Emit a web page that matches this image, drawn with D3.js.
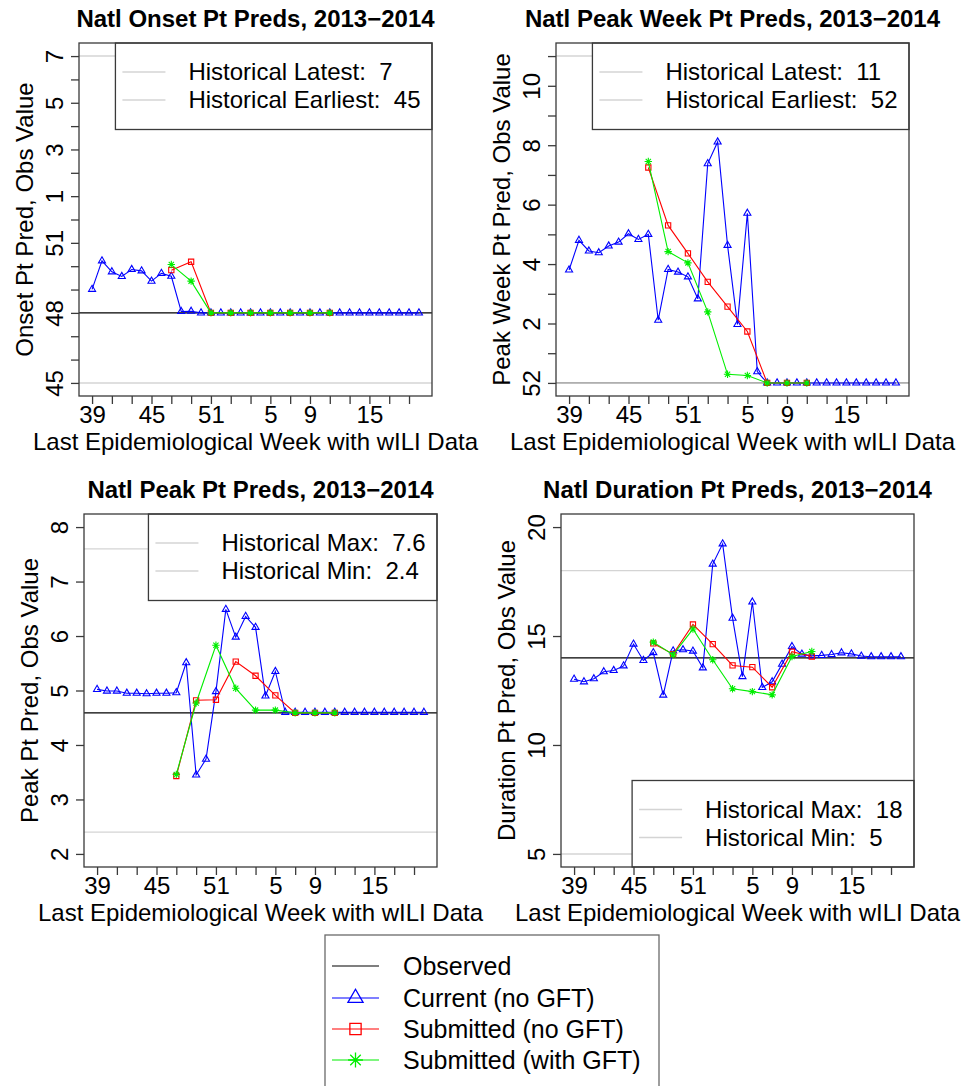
<!DOCTYPE html>
<html><head><meta charset="utf-8">
<script src="https://cdn.jsdelivr.net/npm/d3@7"></script>
<style>
body{margin:0;background:#fff}
svg{display:block}
text{font-family:"Liberation Sans",Arial,Helvetica,sans-serif;white-space:pre;fill:#000}
</style>
</head><body><svg id="c" width="974" height="1086"></svg>
<script>
// ---------------- DATA ----------------
const weeks = [39,40,41,42,43,44,45,46,47,48,49,50,51,52,1,2,3,4,5,6,7,8,9,10,11,12,13,14,15,16,17,18,19,20];
const submittedWeeks = [47,49,51,1,3,5,7,9,11];
const xTickWeeks = [39,41,43,45,47,49,51,1,3,5,7,9,11,13,15,17,19];
const xTickLabels = [39,45,51,5,9,15];

// Onset (season-week scale: 53 = week 1 of 2014)
const onsetCurrent = [49.01,50.23,49.76,49.56,49.86,49.80,49.36,49.69,49.57,48.06,48.07,48,48,48,48,48,48,48,48,48,48,48,48,48,48,48,48,48,48,48,48,48,48,48];
const onsetSubNoGFT = [49.83,50.19,48,48,48,48,48,48,48];
const onsetSubGFT = [50.07,49.36,48,48,48,48,48,48,48];
const onsetObserved = 48;
const onsetHist = [59,45];            // latest (wk 7), earliest (wk 45)
const onsetYTicks = [45,46,47,48,49,50,51,52,53,54,55,56,57,58,59];
const onsetYLabels = [45,48,51,53,55,57,59];

// Peak week (season-week scale)
const pkwkCurrent = [55.80,56.80,56.44,56.38,56.61,56.74,57.02,56.83,57.00,54.11,55.82,55.73,55.57,54.83,59.38,60.11,56.63,53.97,57.71,52.38,52,52,52,52,52,52,52,52,52,52,52,52,52,52];
const pkwkSubNoGFT = [59.25,57.30,56.36,55.40,54.57,53.73,52,52,52];
const pkwkSubGFT = [59.45,56.42,56.04,54.39,52.29,52.25,52,52,52];
const pkwkObserved = 52;
const pkwkHist = [63,52];             // latest (wk 11), earliest (wk 52)
const pkwkYTicks = [52,53,54,55,56,57,58,59,60,61,62,63];
const pkwkYLabels = [52,54,56,58,60,62];

// Peak (wILI %)
const peakCurrent = [5.02,4.99,4.99,4.95,4.95,4.94,4.95,4.95,4.96,5.51,3.45,3.74,4.98,6.49,5.98,6.36,6.16,4.90,5.35,4.60,4.60,4.60,4.60,4.60,4.60,4.60,4.60,4.60,4.60,4.60,4.60,4.60,4.60,4.60];
const peakSubNoGFT = [3.43,4.82,4.83,5.53,5.27,4.91,4.59,4.59,4.59];
const peakSubGFT = [3.46,4.77,5.83,5.04,4.64,4.64,4.59,4.59,4.59];
const peakObserved = 4.59;
const peakHist = [7.6,2.4];
const peakYTicks = [2,3,4,5,6,7,8];

// Duration (weeks)
const durCurrent = [13.02,12.90,13.04,13.36,13.42,13.63,14.63,13.88,14.24,12.29,14.32,14.37,14.31,13.54,18.30,19.23,15.82,13.14,16.56,12.64,12.90,13.71,14.52,14.17,14.09,14.11,14.15,14.23,14.18,14.08,14.05,14.05,14.05,14.05];
const durSubNoGFT = [14.66,14.17,15.53,14.63,13.65,13.57,12.65,14.28,14.06];
const durSubGFT = [14.72,14.14,15.32,13.91,12.58,12.45,12.30,14.06,14.29];
const durObserved = 14;
const durHist = [18,5];
const durYTicks = [5,10,15,20];

const seriesNames = ["Observed","Current (no GFT)","Submitted (no GFT)","Submitted (with GFT)"];

// ---------------- DRAWING ----------------
const svg = d3.select("#c");
svg.append("rect").attr("width",974).attr("height",1086).attr("fill","#fff");
const FONT = 24;
const BOX = "#3a3a3a";
const HISTC = "#d4d4d4";
const COL = {cur:"#0000ff", red:"#ff0000", grn:"#00ee00"};

function triPath(s){const r=0.583*s,w=0.505*s,b=0.2916*s;return `M0,${-r}L${w},${b}L${-w},${b}Z`;}
function sqPath(s){const h=0.375*s;return `M${-h},${-h}H${h}V${h}H${-h}Z`;}
function astPath(s){const a=0.375*s,b=Math.SQRT2*a;return `M${-a},${-a}L${a},${a}M${-a},${a}L${a},${-a}M${-b},0H${b}M0,${-b}V${b}`;}
const seasonLabel = v => v>52 ? String(v-52) : String(v);

let clipId=0;
function drawPanel(p){
  const g = svg.append("g");
  const x = d3.scaleLinear().domain([-0.04*33, 33+0.04*33]).range([p.x0,p.x1]);
  const pad = (p.ylim[1]-p.ylim[0])*0.04;
  const y = d3.scaleLinear().domain([p.ylim[0]-pad,p.ylim[1]+pad]).range([p.y1,p.y0]);
  const id = "clip"+(clipId++);
  g.append("clipPath").attr("id",id).append("rect")
    .attr("x",p.x0).attr("y",p.y0).attr("width",p.x1-p.x0).attr("height",p.y1-p.y0);
  const pl = g.append("g").attr("clip-path",`url(#${id})`);
  // observed
  pl.append("line").attr("x1",p.x0).attr("x2",p.x1).attr("y1",y(p.obs)).attr("y2",y(p.obs))
    .attr("stroke","#000").attr("stroke-width",1.3);
  // historical lines
  p.hist.forEach(h=>pl.append("line").attr("x1",p.x0).attr("x2",p.x1).attr("y1",y(h)).attr("y2",y(h))
    .attr("stroke",HISTC).attr("stroke-width",1.4));
  const line = d3.line().x(d=>x(d.i)).y(d=>y(d.v));
  const cur = p.cur.map((v,k)=>({i:k,v}));
  const sidx = submittedWeeks.map(w=>weeks.indexOf(w));
  const red = p.red.map((v,k)=>({i:sidx[k],v}));
  const grn = p.grn.map((v,k)=>({i:sidx[k],v}));
  const S=7;
  [[cur,COL.cur,triPath(S)],[red,COL.red,sqPath(S)],[grn,COL.grn,astPath(S)]].forEach(([data,c,path])=>{
    pl.append("path").attr("d",line(data)).attr("fill","none").attr("stroke",c).attr("stroke-width",1.1);
    pl.selectAll(null).data(data).enter().append("path")
      .attr("transform",d=>`translate(${x(d.i)},${y(d.v)})`).attr("d",path)
      .attr("fill","none").attr("stroke",c).attr("stroke-width",1.1);
  });
  // in-panel legend
  const lg = g.append("g");
  const rect = lg.append("rect").attr("fill","#fff").attr("stroke",BOX).attr("stroke-width",1.3);
  const texts = p.legend.map(t=>lg.append("text").text(t).attr("font-size",FONT).attr("dy","0.35em"));
  const tw = d3.max(texts,t=>t.node().getComputedTextLength());
  const bw = 73 + tw + 11.5, bh = 86.5;
  const bx = p.x1 - bw;
  const by = p.legendPos==="top" ? p.y0 : p.y1 - bh;
  rect.attr("x",bx).attr("y",by).attr("width",bw).attr("height",bh);
  texts.forEach((t,k)=>{
    const ly = by + 29 + k*28;
    t.attr("x",bx+73).attr("y",ly);
    lg.append("line").attr("x1",bx+7).attr("x2",bx+50).attr("y1",ly).attr("y2",ly)
      .attr("stroke",HISTC).attr("stroke-width",1.4);
  });
  // box
  g.append("rect").attr("x",p.x0).attr("y",p.y0).attr("width",p.x1-p.x0).attr("height",p.y1-p.y0)
    .attr("fill","none").attr("stroke",BOX).attr("stroke-width",1.3);
  // x axis
  const xTickIdx = xTickWeeks.map(w=>weeks.indexOf(w));
  const xa = g.append("g").attr("transform",`translate(0,${p.y1})`)
    .call(d3.axisBottom(x).tickValues(xTickIdx).tickSize(8).tickSizeOuter(0)
      .tickFormat(i=>xTickLabels.includes(weeks[i]) ? String(weeks[i]) : ""));
  xa.select(".domain").remove();
  xa.selectAll("line").attr("stroke",BOX).attr("stroke-width",1.3);
  xa.selectAll("text").attr("y",27).attr("dy",0).attr("font-size",FONT).attr("fill","#000")
    .style("font-family",'"Liberation Sans",Arial,sans-serif');
  // y axis
  const ya = g.append("g").attr("transform",`translate(${p.x0},0)`)
    .call(d3.axisLeft(y).tickValues(p.yTicks).tickSize(8).tickSizeOuter(0)
      .tickFormat(v=>p.yLabels.includes(v) ? p.yFmt(v) : ""));
  ya.select(".domain").remove();
  ya.selectAll("line").attr("stroke",BOX).attr("stroke-width",1.3);
  ya.selectAll("text").attr("x",0).attr("y",-16).attr("dy",0).attr("transform","rotate(-90)")
    .attr("text-anchor","middle").attr("font-size",FONT).attr("fill","#000")
    .style("font-family",'"Liberation Sans",Arial,sans-serif');
  // titles
  const cx = (p.x0+p.x1)/2, cy=(p.y0+p.y1)/2;
  g.append("text").text(p.title).attr("x",cx).attr("y",p.y0-16).attr("text-anchor","middle")
    .attr("font-size",FONT).attr("font-weight","bold");
  g.append("text").text("Last Epidemiological Week with wILI Data").attr("x",cx).attr("y",p.y1+54)
    .attr("text-anchor","middle").attr("font-size",FONT);
  g.append("text").text(p.ylab).attr("transform",`translate(${p.x0-46},${cy}) rotate(-90)`)
    .attr("text-anchor","middle").attr("font-size",FONT);
}

drawPanel({x0:79,x1:432,y0:43,y1:396, ylim:[45,59], cur:onsetCurrent, red:onsetSubNoGFT, grn:onsetSubGFT,
  obs:onsetObserved, hist:onsetHist, yTicks:onsetYTicks, yLabels:onsetYLabels, yFmt:seasonLabel,
  title:"Natl Onset Pt Preds, 2013\u22122014", ylab:"Onset Pt Pred, Obs Value",
  legend:["Historical Latest:  7","Historical Earliest:  45"], legendPos:"top"});
drawPanel({x0:556,x1:909,y0:43,y1:396, ylim:[52,63], cur:pkwkCurrent, red:pkwkSubNoGFT, grn:pkwkSubGFT,
  obs:pkwkObserved, hist:pkwkHist, yTicks:pkwkYTicks, yLabels:pkwkYLabels, yFmt:seasonLabel,
  title:"Natl Peak Week Pt Preds, 2013\u22122014", ylab:"Peak Week Pt Pred, Obs Value",
  legend:["Historical Latest:  11","Historical Earliest:  52"], legendPos:"top"});
drawPanel({x0:84,x1:437,y0:514,y1:867, ylim:[2,8], cur:peakCurrent, red:peakSubNoGFT, grn:peakSubGFT,
  obs:peakObserved, hist:peakHist, yTicks:peakYTicks, yLabels:peakYTicks, yFmt:v=>String(v),
  title:"Natl Peak Pt Preds, 2013\u22122014", ylab:"Peak Pt Pred, Obs Value",
  legend:["Historical Max:  7.6","Historical Min:  2.4"], legendPos:"top"});
drawPanel({x0:561,x1:914,y0:514,y1:867, ylim:[5,20], cur:durCurrent, red:durSubNoGFT, grn:durSubGFT,
  obs:durObserved, hist:durHist, yTicks:durYTicks, yLabels:durYTicks, yFmt:v=>String(v),
  title:"Natl Duration Pt Preds, 2013\u22122014", ylab:"Duration Pt Pred, Obs Value",
  legend:["Historical Max:  18","Historical Min:  5"], legendPos:"bottom"});

// ---------------- MAIN LEGEND ----------------
const ml = svg.append("g");
ml.append("rect").attr("x",325).attr("y",935).attr("width",334).attr("height",200)
  .attr("fill","#fff").attr("stroke","#6a6a6a").attr("stroke-width",1.3);
const mlY = [966,998,1029,1060];
const mlCol = ["#000",COL.cur,COL.red,COL.grn];
const mlSym = [null,triPath(15),sqPath(15),astPath(14)];
seriesNames.forEach((n,k)=>{
  ml.append("line").attr("x1",332).attr("x2",379).attr("y1",mlY[k]).attr("y2",mlY[k])
    .attr("stroke",mlCol[k]).attr("stroke-width",k===0?1.1:1.1);
  if(mlSym[k]) ml.append("path").attr("d",mlSym[k]).attr("transform",`translate(355.5,${mlY[k]})`)
    .attr("fill","none").attr("stroke",mlCol[k]).attr("stroke-width",1.3);
  ml.append("text").text(n).attr("x",403).attr("y",mlY[k]).attr("dy","0.35em").attr("font-size",25);
});
</script></body></html>
